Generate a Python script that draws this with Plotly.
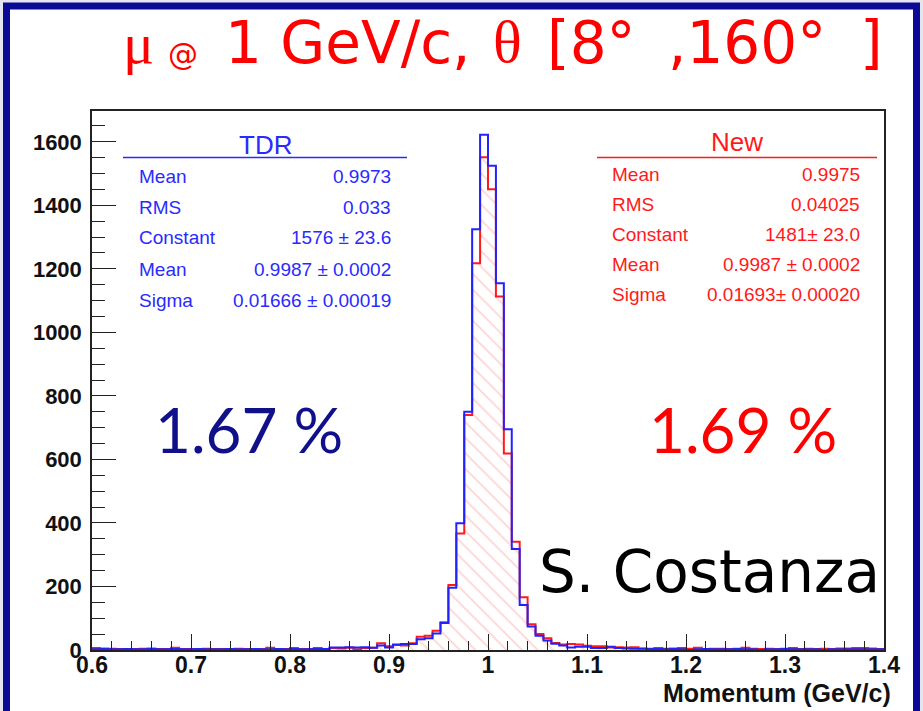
import numpy as np
import plotly.graph_objects as go

# ---------------- data ----------------
x_min, x_max, n_bins = 0.6, 1.4, 100

tdr_counts = [
    2, 3, 2, 2, 3, 2, 2, 3, 2, 2,
    3, 2, 2, 3, 2, 2, 2, 3, 2, 2,
    3, 2, 2, 3, 2, 3, 2, 2, 3, 3,
    8, 8, 9, 8, 9, 7, 14, 8, 17, 19,
    19, 34, 37, 52, 85, 196, 399, 750, 1325, 1622,
    1525, 1155, 695, 318, 142, 74, 45, 30, 20, 14,
    8, 10, 10, 6, 6, 10, 6, 5, 4, 4,
    3, 3, 2, 3, 2, 0, 2, 3, 2, 2,
    2, 3, 2, 2, 0, 2, 2, 3, 2, 2,
    2, 2, 0, 2, 2, 2, 2, 2, 2, 2,
]
new_counts = [
    6, 5, 4, 3, 3, 3, 4, 5, 3, 3,
    7, 3, 3, 3, 4, 3, 3, 3, 4, 3,
    3, 3, 7, 3, 3, 6, 3, 3, 6, 3,
    6, 5, 7, 2, 6, 7, 21, 12, 16, 14,
    21, 42, 45, 61, 87, 205, 367, 740, 1218, 1551,
    1451, 1113, 619, 341, 166, 81, 50, 37, 22, 17,
    19, 17, 13, 12, 12, 8, 9, 8, 9, 5,
    4, 6, 4, 5, 6, 4, 7, 3, 4, 4,
    3, 4, 7, 4, 3, 4, 3, 4, 6, 3,
    4, 3, 4, 3, 5, 5, 6, 6, 5, 3,
]

x_tick_vals = [0.6, 0.7, 0.8, 0.9, 1.0, 1.1, 1.2, 1.3, 1.4]
x_tick_text = ["0.6", "0.7", "0.8", "0.9", "1", "1.1", "1.2", "1.3", "1.4"]
y_tick_vals = [0, 200, 400, 600, 800, 1000, 1200, 1400, 1600]

tdr_stats_labels = ["Mean", "RMS", "Constant", "Mean", "Sigma"]
tdr_stats_values = ["0.9973", "0.033", "1576 ± 23.6", "0.9987 ± 0.0002", "0.01666 ± 0.00019"]
new_stats_labels = ["Mean", "RMS", "Constant", "Mean", "Sigma"]
new_stats_values = ["0.9975", "0.04025", "1481± 23.0", "0.9987 ± 0.0002", "0.01693± 0.00020"]

# ---------------- geometry ----------------
W, H = 923, 711
L, R, T, B = 92, 39, 111, 61
PW, PH = W - L - R, H - T - B


def px(x):
    return (x - L) / PW


def py(y):
    return (H - B - y) / PH


edges = np.linspace(x_min, x_max, n_bins + 1)


def step(vals):
    xs = [x_min] + list(edges[:-1]) + [x_max, x_max]
    ys = [0] + list(vals) + [vals[-1], 0]
    return xs, ys


fig = go.Figure()

xr, yr = step(new_counts)
fig.add_trace(go.Scatter(
    x=xr, y=yr, mode="lines", line=dict(color="#ff1a1a", width=2, shape="hv"),
    fill="tozeroy",
    fillpattern=dict(shape="\\", fgcolor="rgba(255,110,110,0.6)", bgcolor="rgba(255,255,255,0)",
                     size=11, solidity=0.16),
    hoverinfo="skip", showlegend=False,
))
xb, yb = step(tdr_counts)
fig.add_trace(go.Scatter(
    x=xb, y=yb, mode="lines", line=dict(color="#2222ff", width=2, shape="hv"),
    hoverinfo="skip", showlegend=False,
))

axis_col = "#222222"
fig.update_xaxes(
    range=[x_min, x_max], showgrid=False, zeroline=False,
    showline=True, linecolor=axis_col, linewidth=1.5, mirror=True,
    ticks="inside", ticklen=16, tickwidth=1.3, tickcolor=axis_col,
    tickvals=x_tick_vals, ticktext=x_tick_text,
    minor=dict(ticks="inside", ticklen=9, tickwidth=1.2, tickcolor=axis_col, dtick=0.02, tick0=0.6),
    tickfont=dict(family="Liberation Sans", size=23, color="#111111", weight="bold"),
    ticklabelstandoff=-6,
)
fig.update_yaxes(
    range=[0, 1697], showgrid=False, zeroline=False,
    showline=True, linecolor=axis_col, linewidth=1.5, mirror=True,
    ticks="inside", ticklen=24, tickwidth=1.3, tickcolor=axis_col,
    tickvals=y_tick_vals,
    minor=dict(ticks="inside", ticklen=13, tickwidth=1.2, tickcolor=axis_col, dtick=50, tick0=0),
    tickfont=dict(family="Liberation Sans", size=22, color="#111111", weight="bold"),
    ticklabelstandoff=4,
)

ann = []


def text(s, x, y, size, color, family="Liberation Sans", xanchor="center", weight="normal"):
    ann.append(dict(text=s, x=px(x), y=py(y), xref="paper", yref="paper",
                    xanchor=xanchor, yanchor="middle", showarrow=False,
                    font=dict(family=family, size=size, color=color, weight=weight)))


red = "#ff0000"
comic = "DejaVu Sans"
serif = "Liberation Serif"
# title
text("μ", 138, 43, 58, red, family=serif)
text("@", 183, 55, 30, red, family=comic)
text("1 GeV/c,", 223, 43, 58, red, family=comic, xanchor="left")
text("θ", 507, 42, 60, red, family=serif)
text("[8°", 545, 43, 58, red, family=comic, xanchor="left")
text(",160°", 666, 43, 58, red, family=comic, xanchor="left")
text("]", 858, 43, 58, red, family=comic, xanchor="left")

# stats boxes
blue_t = "#2a2aff"
red_t = "#ff1a1a"
text("TDR", 265, 145, 26, blue_t)
tdr_rows = [176, 207, 237, 269, 300]
for lab, val, yy in zip(tdr_stats_labels, tdr_stats_values, tdr_rows):
    text(lab, 137, yy, 19, blue_t, xanchor="left")
    text(val, 393, yy, 19, blue_t, xanchor="right")
text("New", 737, 142, 26, red_t)
new_rows = [174, 204, 234, 264, 294]
for lab, val, yy in zip(new_stats_labels, new_stats_values, new_rows):
    text(lab, 610, yy, 19, red_t, xanchor="left")
    text(val, 862, yy, 19, red_t, xanchor="right")

# big labels
text("1.67 %", 249, 429, 62, "#10108a", family="Lato")
text("1.69 %", 743, 429, 62, "#ff0000", family="Lato")
text("S. Costanza", 537, 572, 58, "#000000", family=comic, xanchor="left")

# axis title
text("Momentum (GeV/c)", 893, 693, 25, "#111111", xanchor="right", weight="bold")

shapes = [
    dict(type="rect", xref="paper", yref="paper", x0=px(6.5), x1=px(916.5), y0=py(740), y1=py(6),
         line=dict(color="#0a0a96", width=7), fillcolor="white", layer="below"),
    dict(type="line", xref="paper", yref="paper", x0=px(123), x1=px(407), y0=py(157.5), y1=py(157.5),
         line=dict(color=blue_t, width=1.5)),
    dict(type="line", xref="paper", yref="paper", x0=px(597), x1=px(877), y0=py(157.5), y1=py(157.5),
         line=dict(color=red_t, width=1.5)),
]

fig.update_layout(
    width=W, height=H, autosize=False,
    margin=dict(l=L, r=R, t=T, b=B, pad=0),
    paper_bgcolor="#e4e5ee", plot_bgcolor="white",
    annotations=ann, shapes=shapes, showlegend=False,
)

fig.write_html("out.html")
